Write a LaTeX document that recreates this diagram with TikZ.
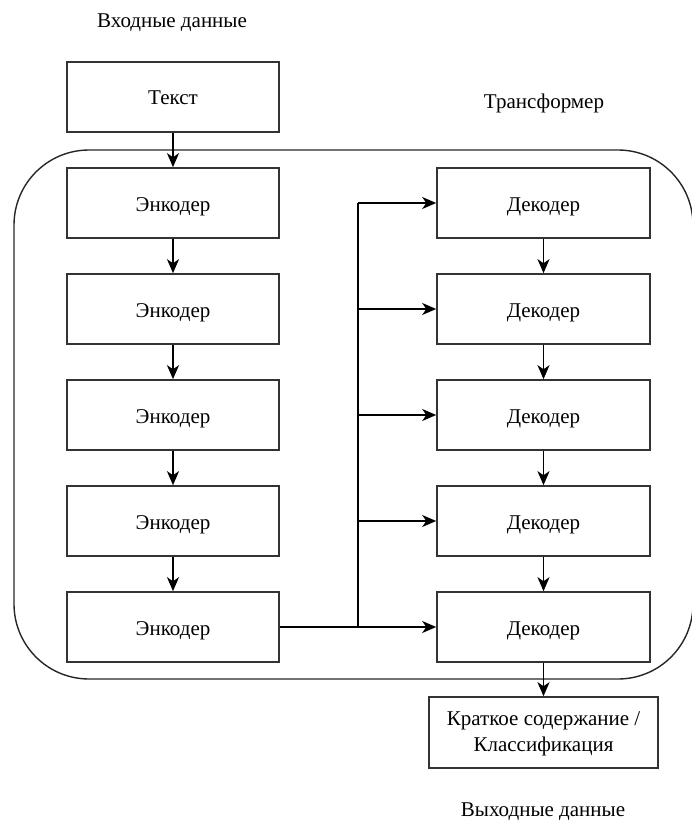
\documentclass[tikz,border=0pt]{standalone}
\usepackage{fontspec}
\setmainfont{Liberation Serif}
\usetikzlibrary{arrows.meta}
\begin{document}
\begin{tikzpicture}[x=1pt,y=-1pt,
  box/.style={draw=black!80, line width=1.6pt, minimum width=212pt, minimum height=70pt,
    inner sep=0pt, align=center, font=\fontsize{21}{26}\selectfont},
  oneline/.style={text height=18pt, text depth=2pt},
  lbl/.style={font=\fontsize{21}{26}\selectfont, inner sep=0pt},
  link/.style={line width=1.5pt, -{Stealth[length=14pt,width=12pt,inset=4pt]}},
  bus/.style={line width=1.6pt}]
\useasboundingbox (0,0) rectangle (691,821);

% transformer frame
\draw[line width=1.4pt, black!85, rounded corners=75pt] (14,150) rectangle (693,679);

% captions
\node[lbl] (inlbl) at (172,23) {Входные данные};
\node[lbl] (trlbl) at (544,103) {Трансформер};
\node[lbl] (outlbl) at (543,812) {Выходные данные};

% input and output
\node[box, oneline] (txt) at (173,97) {Текст};
\node[box, minimum width=229pt, minimum height=71pt] (res) at (543.5,732.5)
  {\rule{0pt}{17pt}Краткое содержание /\\Классификация};

% encoder stack
\foreach \i/\y in {1/203,2/309,3/415,4/521,5/627}
  \node[box, oneline] (e\i) at (173,\y) {Энкодер};
% decoder stack
\foreach \i/\y in {1/203,2/309,3/415,4/521,5/627}
  \node[box, oneline, minimum width=213pt] (d\i) at (543.5,\y) {Декодер};

\draw[link] (txt) -- (e1);
\draw[link] (e1) -- (e2);
\draw[link] (e2) -- (e3);
\draw[link] (e3) -- (e4);
\draw[link] (e4) -- (e5);

\draw[link] (d1) -- (d2);
\draw[link] (d2) -- (d3);
\draw[link] (d3) -- (d4);
\draw[link] (d4) -- (d5);
\draw[link] (d5) -- (res);

% encoder output bus feeding every decoder
\coordinate (busb) at (358,627);
\coordinate (bust) at (358,203);
\draw[line width=2.8pt] (e5.east) -- (busb);
\draw[bus] (busb) -- (bust);
\foreach \i in {1,...,5}
  \draw[link] (d\i.west -| busb) -- (d\i.west);
\end{tikzpicture}
\end{document}
